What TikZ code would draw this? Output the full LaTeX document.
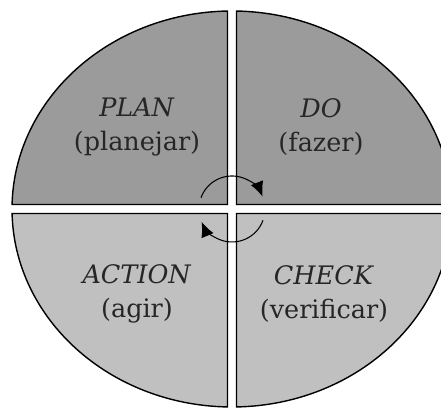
\documentclass[tikz,border=0pt]{standalone}
\usepackage{fontspec}
\setmainfont{DejaVu Serif}
\usetikzlibrary{arrows.meta}
\definecolor{topgray}{RGB}{155,155,155}
\definecolor{lowgray}{RGB}{192,192,192}
\tikzset{lbl/.style={align=center,text=black!85,font=\fontsize{14.5}{19}\selectfont}}

\begin{document}
\begin{tikzpicture}[x=0.02cm,y=0.02cm,line width=.8pt]
\useasboundingbox (0,0) rectangle (441,408); \clip (0,0) rectangle (441,408);
\coordinate (O) at (232,199);
% four quarters of the disc, with a white cross between them
\foreach \sx/\sy/\c in {-1/1/topgray,1/1/topgray,-1/-1/lowgray,1/-1/lowgray} {
  \pgfmathsetmacro\ta{atan2(\sy*4.5/198,\sx*sqrt(1-(4.5/198)^2))}
  \pgfmathsetmacro\tb{atan2(\sy*sqrt(1-(4.5/220)^2),\sx*4.5/220)}
  \filldraw[fill=\c] ([shift={(\sx*4.5,\sy*4.5)}]O) -- ([shift={(\ta:220 and 198)}]O)
    arc[start angle=\ta,end angle=\tb,x radius=220,y radius=198] -- cycle;
}
\draw[line width=.6pt,-{Latex[length=8.5pt,width=7.5pt]}] ([shift={(160:33)}]O) arc[start angle=160,end angle=22,radius=33];
\draw[line width=.6pt,-{Latex[length=8.5pt,width=7.5pt]}] ([shift={(-20:33)}]O) arc[start angle=-20,end angle=-157,radius=33];
\node[lbl] (plan) at (137,281) {\textit{PLAN}\\(planejar)};
\node[lbl] (do) at (321,281) {\textit{DO}\\(fazer)};
\node[lbl] (action) at (137,114) {\textit{ACTION}\\(agir)};
\node[lbl] (check) at (324,114) {\textit{CHECK}\\(verificar)};
\end{tikzpicture}
\end{document}
